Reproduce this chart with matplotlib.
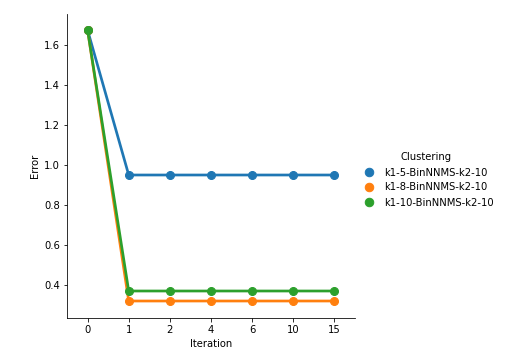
import matplotlib
matplotlib.use("Agg")
import matplotlib.pyplot as plt
from matplotlib.lines import Line2D

iterations = ["0", "1", "2", "4", "6", "10", "15"]
labels = ["k1-5-BinNNMS-k2-10", "k1-8-BinNNMS-k2-10", "k1-10-BinNNMS-k2-10"]
colors = ["#1f77b4", "#ff7f0e", "#2ca02c"]
err_k5 = [1.675, 0.95, 0.95, 0.95, 0.95, 0.95, 0.95]
err_k8 = [1.675, 0.32, 0.32, 0.32, 0.32, 0.32, 0.32]
err_k10 = [1.675, 0.37, 0.37, 0.37, 0.37, 0.37, 0.37]
series = [err_k5, err_k8, err_k10]

fig = plt.figure(figsize=(506 / 72, 360 / 72), dpi=72)
ax = fig.add_axes([67 / 506, 42 / 360, 288 / 506, 304 / 360])

x = range(len(iterations))
for vals, c in zip(series, colors):
    ax.plot(x, vals, color=c, lw=2.7, marker="o", ms=8, zorder=3)

ax.set_xticks(list(x))
ax.set_xticklabels(iterations)
ax.set_xlim(-0.5, len(iterations) - 0.5)
ax.set_ylim(0.235, 1.755)
ax.set_xlabel("Iteration")
ax.set_ylabel("Error")
ax.spines["top"].set_visible(False)
ax.spines["right"].set_visible(False)

handles = [Line2D([], [], ls="", marker="o", ms=8.5, color=c) for c in colors]
fig.legend(handles, labels, title="Clustering", frameon=False,
           loc="center left", bbox_to_anchor=(350 / 506, 0.5),
           handletextpad=0.5, labelspacing=0.5)

fig.savefig("out.png", dpi=72)
